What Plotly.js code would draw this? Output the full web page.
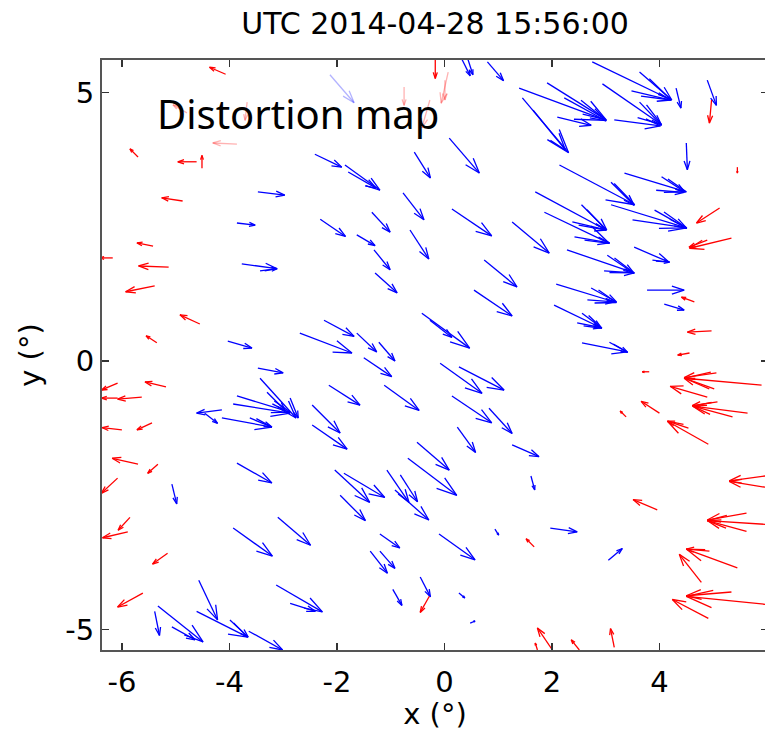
<!DOCTYPE html>
<html>
<head>
<meta charset="utf-8">
<script src="https://cdn.plot.ly/plotly-3.0.1.min.js"></script>
<style>
  html, body { margin: 0; padding: 0; background: #fff; overflow: hidden; }
  #plot { width: 768px; height: 731px; }
</style>
</head>
<body>
<div id="plot"></div>
<script>
// Distortion vectors (degrees): tail position (x, y) and displacement (u, v)
const blueX = [-3.47,-2.41,-1.85,-1.79,0.33,0.44,0.80,1.39,1.45,1.65,2.75,3.63,3.48,2.94,3.63,3.16,1.91,2.23,2.10,-0.56,0.09,4.31,4.89,4.50,3.35,4.04,3.94,2.14,3.10,1.69,3.10,3.91,3.50,2.55,2.38,1.86,2.42,1.26,2.28,3.03,2.97,3.53,3.87,2.08,2.73,2.66,3.77,4.09,2.04,2.56,2.47,2.56,3.07,-3.86,-3.77,-3.43,-4.03,-2.69,-2.31,-1.35,-0.77,0.14,-1.63,-0.64,-1.31,-1.29,0.74,0.55,-0.42,-0.27,-2.24,-1.63,-1.22,-3.47,-3.43,-3.86,-3.93,-3.30,-2.87,-4.14,-3.62,-4.14,-4.46,-3.86,-5.07,-1.50,-0.08,0.27,-2.15,-1.12,0.14,0.83,-2.46,-2.46,0.24,1.26,-0.51,-0.68,1.61,-2.04,-1.87,-1.07,-0.82,-1.94,-0.92,-1.20,-0.10,-1.38,-1.20,0.94,-0.45,-0.96,0.27,0.48,-3.93,-3.10,-3.13,-2.87,-4.57,-4.61,-3.99,-3.64,-5.33,-5.07,-5.39,1.97,3.05];
const blueY = [3.15,3.85,3.65,3.52,5.61,5.61,5.57,5.08,4.90,4.67,5.57,5.38,5.03,5.16,4.82,4.49,5.18,4.90,4.54,3.89,4.15,5.08,5.23,4.06,3.50,3.43,3.18,3.65,3.33,3.15,2.91,2.81,2.63,2.91,2.59,2.77,2.31,2.59,2.07,1.97,1.68,2.12,1.88,1.43,1.36,1.14,1.32,1.06,1.04,0.89,0.71,0.34,0.35,2.57,1.81,1.68,0.37,0.52,2.64,2.77,3.13,2.83,2.35,2.44,2.07,1.64,1.88,1.32,0.89,0.76,0.76,0.52,0.35,-0.13,-0.32,-0.65,-0.80,-0.58,-0.69,-1.06,-1.06,-0.91,-0.97,-1.90,-2.29,0.06,-0.04,-0.11,-0.45,-0.45,-0.65,-0.88,-0.82,-1.19,-1.23,-1.56,-1.51,-1.81,-2.14,-2.03,-2.09,-2.03,-2.12,-2.50,-2.40,-3.22,-3.22,-3.54,-3.54,-3.13,-4.02,-4.25,-4.32,-4.88,-3.11,-2.91,-4.17,-4.51,-4.08,-4.66,-4.82,-5.03,-4.56,-4.95,-4.66,-3.11,-3.71];
const blueU = [0.50,0.50,0.65,0.52,0.15,0.09,0.30,1.62,0.86,0.60,1.47,0.60,0.73,1.10,0.41,0.86,1.10,0.78,0.63,0.30,0.56,0.09,0.17,0.02,1.15,0.43,0.52,1.40,0.43,1.32,1.40,0.60,1.01,0.47,0.63,1.21,0.65,0.69,1.25,0.50,0.56,0.65,0.32,1.12,0.47,0.50,0.69,0.37,0.89,0.35,0.45,0.84,0.34,0.34,0.65,0.32,0.45,0.97,0.47,0.34,0.39,0.74,0.34,0.35,0.30,0.41,0.61,0.71,0.89,0.41,0.56,0.37,0.30,0.47,0.67,0.99,1.06,0.34,0.15,0.93,0.41,-0.47,0.24,0.65,0.09,0.52,0.78,0.84,0.58,0.65,0.74,0.43,0.52,0.65,0.34,0.50,0.60,0.91,0.07,0.65,0.76,0.41,0.32,0.47,0.63,0.37,0.67,0.32,0.28,0.07,0.19,0.17,0.11,0.09,0.73,0.61,0.86,0.47,0.35,0.95,0.34,0.63,0.84,0.43,0.09,0.50,0.26];
const blueV = [-0.06,-0.24,-0.47,-0.30,-0.30,-0.28,-0.35,-0.60,-1.02,-0.74,-0.71,-0.52,-0.17,-0.76,-0.43,-0.11,-0.69,-0.43,-0.15,-0.48,-0.65,-0.37,-0.47,-0.50,-0.35,-0.28,-0.04,-0.74,-0.43,-0.71,-0.43,-0.34,-0.15,-0.47,-0.15,-0.58,-0.11,-0.58,-0.43,-0.34,-0.04,-0.28,-0.04,-0.34,-0.26,-0.04,0.00,-0.11,-0.43,-0.26,-0.09,-0.17,-0.19,-0.04,-0.09,0.04,-0.13,-0.37,-0.32,-0.37,-0.50,-0.50,-0.20,-0.54,-0.37,-0.37,-0.50,-0.48,-0.65,-0.32,-0.30,-0.35,-0.35,-0.09,-0.74,-0.30,-0.17,-0.34,-0.37,-0.17,-0.17,-0.06,-0.19,-0.37,-0.37,-0.35,-0.56,-0.43,-0.37,-0.47,-0.50,-0.47,-0.52,-0.45,-0.47,-0.22,-0.52,-0.69,-0.26,-0.60,-0.45,-0.60,-0.50,-0.47,-0.56,-0.26,-0.48,-0.41,-0.32,-0.11,-0.37,-0.30,-0.09,0.04,-0.52,-0.52,-0.50,-0.15,-0.74,-0.48,-0.32,-0.35,-0.67,-0.24,-0.45,-0.07,0.22];

const redX = [-4.07,-5.70,-4.61,-4.51,-4.87,-0.17,4.97,5.45,5.12,5.34,4.89,4.65,4.97,4.56,-5.42,-6.17,-5.13,-5.39,-4.55,-5.35,-6.08,-5.18,-5.63,-6.08,-6.00,-5.44,-5.70,-5.33,-6.08,1.67,-0.28,2.01,1.73,-5.85,-5.89,-5.15,-5.61,3.81,5.90,5.06,5.02,4.89,5.64,5.36,5.08,4.00,3.38,4.91,4.54,5.97,5.97,3.96,5.62,5.97,5.62,5.45,4.93,4.78,5.34,5.97,4.91,3.16,2.51];
const redY = [5.34,3.80,3.71,3.59,2.98,5.61,4.86,3.61,2.85,2.29,2.25,1.10,0.56,0.15,2.14,1.92,1.75,1.40,0.69,0.34,-0.41,-0.48,-0.67,-0.69,-1.28,-1.15,-1.92,-1.92,-2.18,-3.46,-4.38,-5.38,-5.38,-2.91,-3.18,-3.58,-4.32,-0.20,-0.45,-0.22,-0.52,-0.67,-0.97,-1.04,-0.76,-0.97,-1.04,-1.55,-1.25,-2.14,-2.35,-2.77,-2.83,-3.04,-3.17,-3.85,-3.54,-4.12,-4.30,-4.53,-4.79,-5.33,-5.38];
const redU = [-0.30,-0.15,-0.35,0.00,-0.39,0.00,-0.04,0.00,-0.43,-0.78,-0.34,-0.24,-0.45,-0.22,-0.30,-0.24,-0.56,-0.54,-0.37,-0.20,-0.30,-0.39,-0.45,-0.30,-0.37,-0.28,-0.48,-0.19,-0.30,-0.15,-0.17,-0.28,-0.04,-0.22,-0.47,-0.28,-0.47,-0.13,-1.43,-0.60,-0.56,-0.69,-1.02,-0.74,-0.47,-0.34,-0.11,-0.76,-0.39,-0.67,-0.67,-0.45,-0.73,-1.08,-0.73,-0.95,-0.43,-0.41,-0.84,-1.47,-0.67,-0.07,-0.15];
const redV = [0.13,0.15,0.00,0.24,0.06,-0.35,-0.43,-0.11,-0.28,-0.19,-0.13,0.09,-0.02,-0.04,0.06,0.00,0.02,-0.11,0.17,0.13,-0.13,0.09,-0.04,0.00,0.04,-0.13,0.11,-0.17,-0.28,0.15,-0.30,0.41,0.13,-0.24,-0.11,-0.20,-0.26,0.00,0.13,-0.09,0.20,0.20,0.13,0.20,-0.07,0.22,0.11,0.43,0.13,-0.09,0.11,0.19,-0.13,0.07,0.20,0.35,0.04,0.52,-0.07,0.15,0.35,0.35,0.19];

// Low-weight vectors, drawn faded
const paleRedX = [-4.79,-3.67,-3.86,0.07,0.01,-0.75,-0.27];
const paleRedY = [4.62,4.82,4.04,5.38,5.23,5.10,4.86];
const paleRedU = [-0.26,-0.04,-0.45,-0.13,0.00,0.00,-0.15];
const paleRedV = [0.15,-0.34,0.02,-0.58,-0.37,-0.34,-0.52];
const paleBlueX = [-2.13];
const paleBlueY = [5.33];
const paleBlueU = [0.45];
const paleBlueV = [-0.52];

// Quiver-style arrow geometry: shaft plus two barbs (head length 0.33, half-width 0.33 of that)
function quiver(xs, ys, us, vs) {
  const px = [], py = [];
  const a = 0.33, b = 0.33;
  for (let i = 0; i < xs.length; i++) {
    const x = xs[i], y = ys[i], u = us[i], v = vs[i];
    const hx = x + u, hy = y + v;
    px.push(x, hx, null);
    py.push(y, hy, null);
    px.push(hx - a * (u + b * v), hx, hx - a * (u - b * v), null);
    py.push(hy - a * (v - b * u), hy, hy - a * (v + b * u), null);
  }
  return { x: px, y: py };
}

function arrowTrace(xs, ys, us, vs, color) {
  const q = quiver(xs, ys, us, vs);
  return {
    type: 'scatter', mode: 'lines', x: q.x, y: q.y,
    line: { color: color, width: 1.3 }, hoverinfo: 'skip', showlegend: false
  };
}

const traces = [
  arrowTrace(paleRedX, paleRedY, paleRedU, paleRedV, 'rgba(255,0,0,0.3)'),
  arrowTrace(paleBlueX, paleBlueY, paleBlueU, paleBlueV, 'rgba(0,0,255,0.3)'),
  arrowTrace(blueX, blueY, blueU, blueV, 'rgb(0,0,255)'),
  arrowTrace(redX, redY, redU, redV, 'rgb(255,0,0)')
];

const tickFont = { family: 'DejaVu Sans, Verdana, sans-serif', size: 29, color: '#000' };
const axisCommon = {
  showgrid: false, zeroline: false, showline: true, linecolor: '#555', linewidth: 2,
  ticks: 'inside', ticklen: 7, tickwidth: 1.5, tickcolor: '#333', mirror: 'ticks',
  tickfont: tickFont
};

const layout = {
  width: 768, height: 731,
  margin: { l: 102, r: 0, t: 60, b: 81 },
  paper_bgcolor: '#fff', plot_bgcolor: '#fff',
  title: {
    text: 'UTC 2014-04-28 15:56:00',
    font: { family: 'DejaVu Sans, Verdana, sans-serif', size: 30, color: '#000' },
    x: 0.5, xref: 'paper', y: 1 - 23 / 731, yref: 'container', yanchor: 'middle'
  },
  xaxis: Object.assign({}, axisCommon, {
    range: [-6.37, 6.02], tickvals: [-6, -4, -2, 0, 2, 4], ticktext: ['-6', '-4', '-2', '0', '2', '4'],
    ticklabelstandoff: 5,
    title: { text: 'x (°)', font: tickFont, standoff: 6 }
  }),
  yaxis: Object.assign({}, axisCommon, {
    range: [-5.38, 5.605], tickvals: [-5, 0, 5], ticktext: ['-5', '0', '5'],
    ticklabelstandoff: 0,
    title: { text: 'y (°)', font: tickFont, standoff: 16 }
  }),
  annotations: [{
    text: 'Distortion map', xref: 'paper', yref: 'paper',
    x: (155 - 102) / 666, y: (650 - 113) / 590, xanchor: 'left', yanchor: 'middle',
    showarrow: false,
    font: { family: 'Noto Sans, Open Sans, sans-serif', size: 40, color: '#000' }
  }]
};

Plotly.newPlot('plot', traces, layout, { staticPlot: true, displayModeBar: false });
</script>
</body>
</html>
